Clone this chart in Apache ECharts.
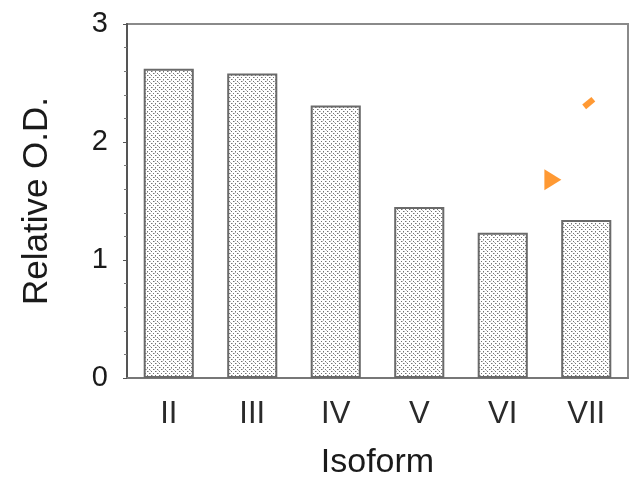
<!DOCTYPE html>
<html>
<head>
<meta charset="utf-8">
<script src="https://cdn.jsdelivr.net/npm/echarts@6/dist/echarts.min.js"></script>
<style>
  html, body { margin: 0; padding: 0; background: #fff; }
  #chart { width: 635px; height: 497px; }
</style>
</head>
<body>
<div id="chart"></div>
<script>
// Isoform categories and their relative optical density
const isoforms = ['II', 'III', 'IV', 'V', 'VI', 'VII'];
const relativeOD = [2.62, 2.58, 2.31, 1.45, 1.23, 1.34];
const yTicks = [0, 1, 2, 3];

// Orange annotation marks (x in category units, y in O.D. units)
const arrowMark = [[5.1, 1.68]];
const dashMark = [[5.53, 2.33]];

// Stippled fill for the bars
function stipple() {
  const c = document.createElement('canvas');
  c.width = 8; c.height = 8;
  const g = c.getContext('2d');
  g.fillStyle = '#ffffff';
  g.fillRect(0, 0, 8, 8);
  g.fillStyle = 'rgba(80,80,80,0.8)';
  [[1, 1], [5, 1], [3, 3], [1, 5], [5, 5], [7, 3], [3, 7], [7, 7]].forEach(p => g.fillRect(p[0], p[1], 1, 1));
  g.fillStyle = 'rgba(130,130,130,0.55)';
  [[2, 1], [6, 5], [4, 3], [0, 7], [3, 0], [6, 2]].forEach(p => g.fillRect(p[0], p[1], 1, 1));
  return c;
}

const chart = echarts.init(document.getElementById('chart'));
const font = '"Liberation Sans", Arial, Helvetica, sans-serif';

chart.setOption({
  animation: false,
  grid: {
    left: 127, right: 7, top: 24, bottom: 119,
    show: true, borderColor: '#8a8a8a', borderWidth: 2
  },
  xAxis: [{
    type: 'category',
    data: isoforms,
    name: 'Isoform',
    nameLocation: 'middle',
    nameGap: 68,
    nameTextStyle: { fontFamily: font, fontSize: 34, color: '#1a1a1a' },
    axisLine: { lineStyle: { color: '#777', width: 2 } },
    axisTick: { alignWithLabel: true, length: 4, lineStyle: { color: '#555' } },
    axisLabel: { fontFamily: font, fontSize: 31, color: '#2a2a2a', margin: 21 }
  }, {
    type: 'value', min: 0, max: 6, show: false
  }],
  yAxis: {
    type: 'value',
    min: 0, max: 3, interval: 1,
    name: 'Relative O.D.',
    nameLocation: 'middle',
    nameGap: 72,
    nameTextStyle: { fontFamily: font, fontSize: 35, color: '#1a1a1a' },
    axisLine: { show: true, lineStyle: { color: '#555', width: 2 } },
    axisTick: { show: true, length: 4, lineStyle: { color: '#555' } },
    minorTick: { show: true, splitNumber: 5, length: 3, lineStyle: { color: '#777' } },
    splitLine: { show: false },
    axisLabel: {
      fontFamily: font, fontSize: 29, color: '#1a1a1a', margin: 19,
      formatter: v => (yTicks.indexOf(v) >= 0 ? String(v) : '')
    }
  },
  series: [{
    type: 'bar',
    data: relativeOD,
    barCategoryGap: '40%',
    itemStyle: {
      color: { image: stipple(), repeat: 'repeat' },
      borderColor: '#6a6a6a',
      borderWidth: 2
    }
  }, {
    type: 'scatter',
    xAxisIndex: 1,
    data: arrowMark,
    symbol: 'triangle',
    symbolRotate: -90,
    symbolSize: [21, 17],
    itemStyle: { color: '#ff7f00' }
  }, {
    type: 'scatter',
    xAxisIndex: 1,
    data: dashMark,
    symbol: 'rect',
    symbolRotate: 40,
    symbolSize: [12, 6],
    itemStyle: { color: '#ff7f00' }
  }]
});
</script>
</body>
</html>
